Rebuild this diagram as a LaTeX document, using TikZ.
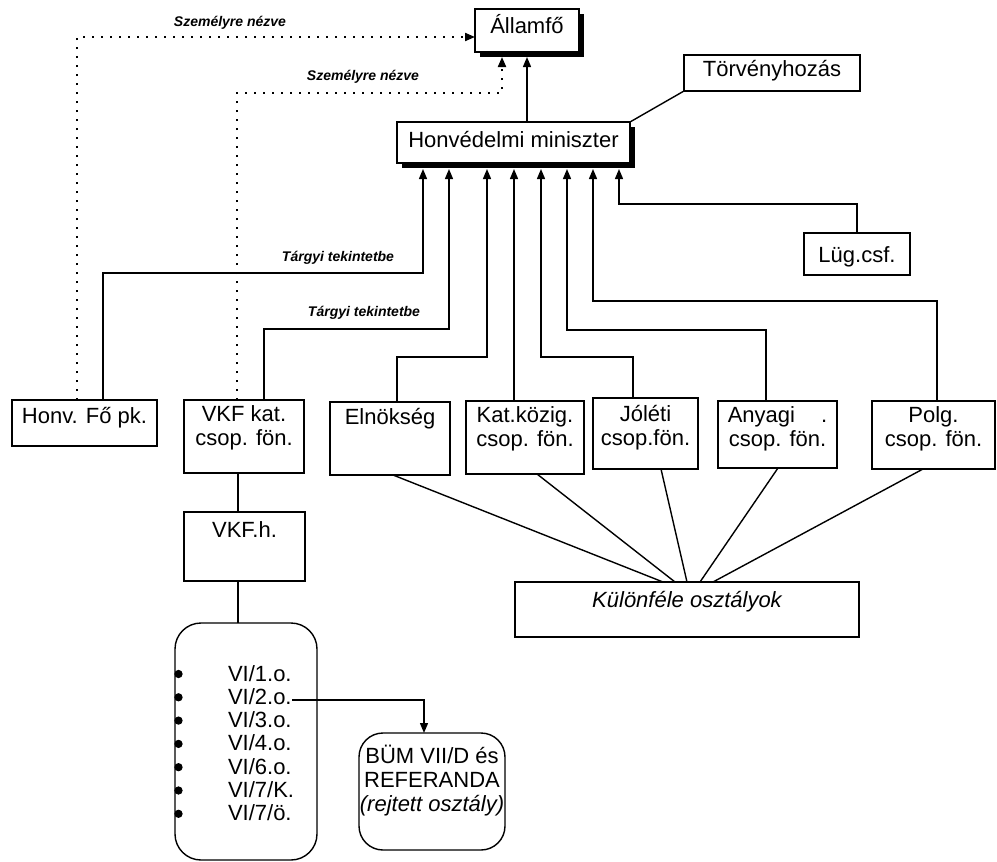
\documentclass[tikz,border=0pt]{standalone}
\usepackage{fontspec}
\setmainfont{Liberation Sans}
\usetikzlibrary{arrows.meta,shadows,calc}
\newcommand{\bxt}[4]{\parbox[c][#2][t]{#1}{\centering\rule{0pt}{#3}#4}}
\begin{document}
\begin{tikzpicture}[x=1pt,y=-1pt,
  every node/.style={inner sep=0pt, outer sep=0pt},
  box/.style={draw, line width=1.4pt, fill=white, anchor=north west, font=\fontsize{22}{24}\selectfont},
  shbox/.style={box, drop shadow={shadow xshift=5pt, shadow yshift=-5pt, fill=black, opacity=1}},
  rbox/.style={box, rounded corners=26pt},
  conn/.style={line width=1.4pt},
  arr/.style={conn, -{Triangle[length=10pt,width=8pt]}},
  dotl/.style={line width=2pt, dash pattern=on 2pt off 7pt, -{Triangle[length=10pt,width=8pt]}},
  lbl/.style={font=\fontsize{14}{16}\selectfont\bfseries\itshape},
  bullet/.style={fill=black, draw=black, line width=1pt}
]
\useasboundingbox (0,0) rectangle (997,862);

% boxes
\node[shbox] (allam) at (475,9) {\bxt{104pt}{43pt}{24pt}{Államfő}};
\node[box] (torv) at (684,55) {\bxt{176pt}{36pt}{21pt}{Törvényhozás}};
\node[shbox] (hm) at (397,122) {\bxt{233pt}{41pt}{25pt}{Honvédelmi miniszter}};
\node[box] (lug) at (804,233) {\bxt{106pt}{42pt}{29pt}{Lüg.csf.}};
\node[box] (honvfo) at (12,400) {\bxt{145pt}{46pt}{23pt}{Honv. Fő pk.}};
\node[box] (vkfkat) at (184,400) {\bxt{120pt}{73pt}{21pt}{VKF kat.\\csop. fön.}};
\node[box] (elnok) at (330,402) {\bxt{120pt}{73pt}{22pt}{Elnökség}};
\node[box] (katk) at (466,401) {\bxt{118pt}{73pt}{21pt}{Kat.közig.\\csop. fön.}};
\node[box] (jol) at (593,398) {\bxt{105pt}{71pt}{23pt}{Jóléti\\csop.fön.}};
\node[box] (any) at (718,401) {\bxt{119pt}{67pt}{21pt}{Anyagi\hspace{26pt}.\\csop. fön.}};
\node[box] (polg) at (872,401) {\bxt{123pt}{68pt}{21pt}{Polg.\\csop. fön.}};
\node[box] (vkfh) at (184,512) {\bxt{121pt}{69pt}{25pt}{VKF.h.}};
\node[box] (kul) at (515,582) {\bxt{344pt}{55pt}{25pt}{\itshape Különféle osztályok}};
\node[rbox] (list) at (175,623) {\parbox[c][237pt][t]{142pt}{\leftskip=53pt\fontsize{22}{23.3}\selectfont\rule{0pt}{58pt}%
VI/1.o.\\
VI/2.o.\\
VI/3.o.\\
VI/4.o.\\
VI/6.o.\\
VI/7/K.\\
VI/7/ö.}};
\node[rbox, rounded corners=24pt] (bum) at (359,733) {\bxt{146pt}{117pt}{30pt}{\mbox{BÜM VII/D és}\\REFERANDA\\\mbox{\itshape (rejtett osztály)}}};

% bullets on the list box border
\foreach \k in {0,...,6} {
  \filldraw[bullet] (178.5, 674+23.3*\k) circle[radius=3.6pt];
}

% labels
\node[lbl] (s1) at (230,23) {Személyre nézve};
\node[lbl] (s2) at (363,77) {Személyre nézve};
\node[lbl] (t1) at (338,258) {Tárgyi tekintetbe};
\node[lbl] (t2) at (364,313) {Tárgyi tekintetbe};

% connectors
\draw[arr] ([xshift=13.5pt]hm.north) -- ([yshift=-5pt]allam.south);
\draw[conn] (torv.south west) -- (hm.north east);
\draw[arr] ([xshift=18.5pt]honvfo.north) -- ++(0,-127) -| ([xshift=26pt,yshift=-6pt]hm.south west);
\draw[arr] ([xshift=20pt]vkfkat.north) -- ++(0,-71) -| ([xshift=52pt,yshift=-6pt]hm.south west);
\draw[arr] ([xshift=7pt]elnok.north) -- ++(0,-45) -| ([xshift=90pt,yshift=-6pt]hm.south west);
\draw[arr] ([xshift=-11pt]katk.north) -- ([xshift=117pt,yshift=-6pt]hm.south west);
\draw[arr] ([xshift=-12.5pt]jol.north) -- ++(0,-41) -| ([xshift=144pt,yshift=-6pt]hm.south west);
\draw[arr] ([xshift=-11.5pt]any.north) -- ++(0,-71) -| ([xshift=170pt,yshift=-6pt]hm.south west);
\draw[arr] ([xshift=3.5pt]polg.north) -- ++(0,-100) -| ([xshift=196pt,yshift=-6pt]hm.south west);
\draw[arr] (lug.north) -- ++(0,-29) -| ([xshift=222pt,yshift=-6pt]hm.south west);

\draw[dotl] ([xshift=-7.5pt]honvfo.north) |- ([yshift=-6.5pt]allam.west);
\draw[dotl] ([xshift=-7pt]vkfkat.north) -- ++(0,-307) -| ([xshift=-25pt,yshift=-5pt]allam.south);

\draw[conn] ([xshift=-6pt]vkfkat.south) -- ([xshift=-6.5pt]vkfh.north);
\draw[conn] ([xshift=-6.5pt]vkfh.south) -- ([xshift=-8pt]list.north);

\draw[conn] ([xshift=3pt]elnok.south) -- ([xshift=-24pt]kul.north);
\draw[conn] ([xshift=12pt]katk.south) -- ([xshift=-12pt]kul.north);
\draw[conn] ([xshift=15.5pt]jol.south) -- (kul.north);
\draw[conn] ([xshift=0.5pt]any.south) -- ([xshift=13pt]kul.north);
\draw[conn] ([xshift=-10.5pt]polg.south) -- ([xshift=26pt]kul.north);

\coordinate (v2) at (292,700);
\draw[arr] (v2) -| ([xshift=-8pt]bum.north);
\end{tikzpicture}
\end{document}
